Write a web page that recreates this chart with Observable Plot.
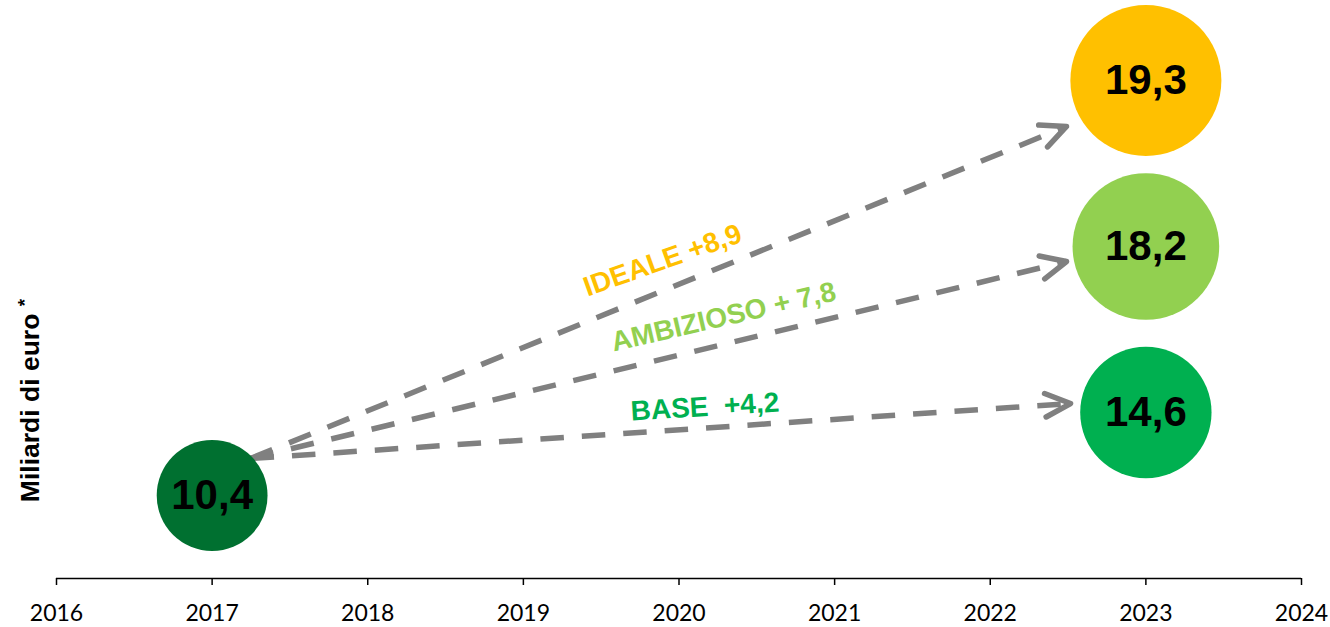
<!DOCTYPE html>
<html><head><meta charset="utf-8">
<script src="https://cdn.jsdelivr.net/npm/d3@7"></script>
<script src="https://cdn.jsdelivr.net/npm/@observablehq/plot@0.6"></script>
<style>body{margin:0;background:#fff}</style>
</head><body><div id="chart"></div>
<script>
// ---- data ----
const bubbleKeys = ["2017", "BASE", "AMBIZIOSO", "IDEALE"];
const bubbleYears = [2017, 2023, 2023, 2023];
const bubbleValues = [10.4, 14.6, 18.2, 19.3];      // miliardi di euro
const bubbleLevels = [1, 2, 4, 6];                  // vertical placement (hidden y)

const scenarios = ["BASE", "AMBIZIOSO", "IDEALE"];
const scenarioLabels = ["BASE  +4,2", "AMBIZIOSO + 7,8", "IDEALE +8,9"];
const arrowStartYear = 2017.247, arrowStartLevel = 1.446;
const arrowEndYears = [2022.516, 2022.49, 2022.49];
const arrowEndLevels = [2.108, 3.819, 5.446];

const tickYears = [2016, 2017, 2018, 2019, 2020, 2021, 2022, 2023, 2024];
const yTitle = "Miliardi di euro";

// ---- layout (separate from data) ----
const labelYears = [2020.167, 2020.286, 2019.894];
const labelLevels = [2.066, 3.151, 3.831];
const labelAngles = [-3.5, -13, -19.5];
const palette = ["#007030", "#00B050", "#92D050", "#FFC000"];

const bubbles = bubbleValues.map((v, i) => ({
  key: bubbleKeys[i], year: bubbleYears[i], level: bubbleLevels[i], value: v,
  label: v.toFixed(1).replace(".", ",")
}));
const arrows = scenarios.map((s, i) => ({
  key: s, x1: arrowStartYear, y1: arrowStartLevel, x2: arrowEndYears[i], y2: arrowEndLevels[i]
}));
const labels = scenarios.map((s, i) => ({
  key: s, text: scenarioLabels[i], x: labelYears[i], y: labelLevels[i], angle: labelAngles[i]
}));

const font = "Liberation Sans, Arial, sans-serif";

const svg = Plot.plot({
  width: 1330, height: 627,
  marginLeft: 56, marginRight: 29, marginTop: 0, marginBottom: 49,
  style: {fontFamily: font, background: "#fff", color: "#000", overflow: "visible"},
  x: {domain: [2016, 2024], axis: null},
  y: {domain: [0, 6.964], axis: null},
  r: {domain: [0, 19.3], range: [0, 75.5]},
  color: {domain: bubbleKeys, range: palette},
  marks: [
    Plot.ruleY([0], {stroke: "#000", strokeWidth: 1.5}),
    Plot.axisX({ticks: tickYears, tickFormat: d => String(d), tickSize: 7, tickPadding: 19,
      fontSize: 23, fontFamily: "Lato", fontWeight: "normal"}),
    Plot.arrow(arrows, {x1: "x1", y1: "y1", x2: "x2", y2: "y2", stroke: "#808080",
      strokeWidth: 5.5, headAngle: 50, headLength: 7.6}),
    Plot.dot(bubbles, {x: "year", y: "level", r: "value", fill: "key", stroke: "none"}),
    Plot.text(bubbles, {x: "year", y: "level", text: "label", fontSize: 42, fontWeight: "bold", fill: "#000"}),
    Plot.text(labels, {x: "x", y: "y", text: "text", rotate: "angle", fill: "key",
      fontSize: 28, fontWeight: "bold"}),
    Plot.text([yTitle], {frameAnchor: "left", textAnchor: "middle", lineAnchor: "middle",
      rotate: -90, dx: -26, dy: 111, fontSize: 26.5, fontWeight: "bold", fill: "#000"})
  ]
});

svg.querySelectorAll('g[aria-label="x-axis tick"]').forEach(g => g.setAttribute("stroke-width", "1.5"));
// dashed shafts, solid heads
svg.querySelectorAll('g[aria-label="arrow"] path').forEach(p => {
  const d = p.getAttribute("d");
  const k = d.indexOf("M", 1);
  if (k < 0) return;
  const head = p.cloneNode();
  p.setAttribute("d", d.slice(0, k));
  p.setAttribute("stroke-dasharray", "23.5,18");
  p.setAttribute("stroke-linecap", "butt");
  head.setAttribute("d", d.slice(k));
  head.setAttribute("stroke-linecap", "round");
  head.setAttribute("stroke-linejoin", "round");
  p.parentNode.appendChild(head);
});
// superscript asterisk on the y title
svg.querySelectorAll("text").forEach(t => {
  if (t.textContent === yTitle) {
    const ns = "http://www.w3.org/2000/svg";
    const sp = document.createElementNS(ns, "tspan");
    sp.textContent = " ";
    const star = document.createElementNS(ns, "tspan");
    star.textContent = "*";
    star.setAttribute("font-size", "19");
    star.setAttribute("dy", "-8");
    t.appendChild(sp); t.appendChild(star);
  }
});
document.getElementById("chart").appendChild(svg);
</script>
</body></html>
